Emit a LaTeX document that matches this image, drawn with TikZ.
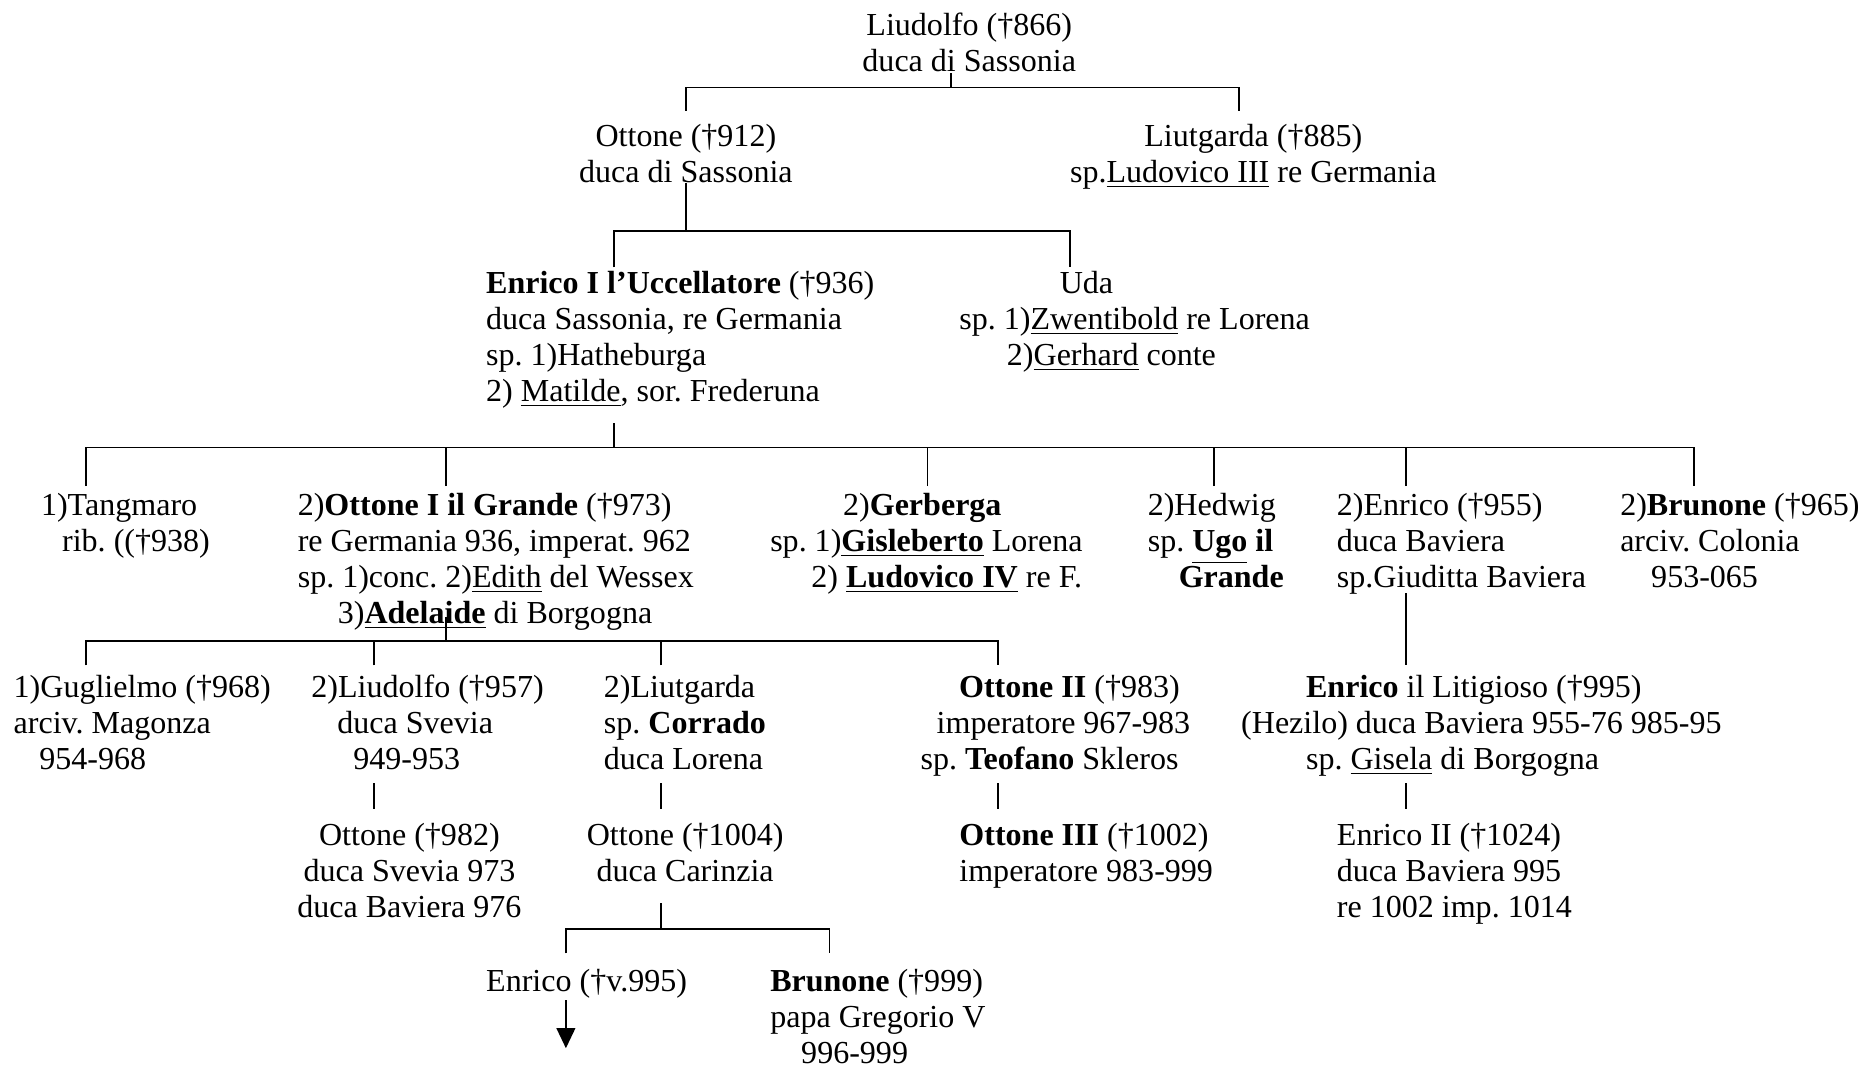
\documentclass[tikz,border=0pt]{standalone}
\usepackage{fontspec}
\setmainfont{Liberation Serif}
\usetikzlibrary{arrows.meta}

\begin{document}
\begin{tikzpicture}[font=\fontsize{12}{13.5}\selectfont\frenchspacing, line width=0.6pt,
  person/.style={inner sep=0pt, anchor=north west, align=left},
  personc/.style={inner sep=0pt, anchor=north, align=center}]
\useasboundingbox (0,0) rectangle (24.50,-14.04);

\node[personc] (liudolfo) at (12.76,-0.13) {\strut Liudolfo (†866)\\duca di Sassonia};
\node[personc] (ottone912) at (9.03,-1.58) {\strut Ottone (†912)\\duca di Sassonia};
\node[personc] (liutgarda885) at (16.50,-1.58) {\strut Liutgarda (†885)\\sp.\underline{Ludovico III} re Germania};

\node[person] (enricoI) at (6.39,-3.52) {\strut\textbf{Enrico I l’Uccellatore} (†936)\\duca Sassonia, re Germania\\sp. 1)Hatheburga\\2) \underline{Matilde}, sor. Frederuna};
\node[person] (uda) at (12.62,-3.52) {\strut\hspace*{37.6pt}Uda\\sp. 1)\underline{Zwentibold} re Lorena\\\hspace*{17.8pt}2)\underline{Gerhard} conte};

\node[person] (tangmaro) at (0.53,-6.44) {\strut 1)Tangmaro\\\hspace*{7.9pt}rib. ((†938)};
\node[person] (ottoneI) at (3.91,-6.44) {\strut 2)\textbf{Ottone I il Grande} (†973)\\re Germania 936, imperat. 962\\sp. 1)conc. 2)\underline{Edith} del Wessex\\\hspace*{15pt}3)\underline{\textbf{Adelaide}} di Borgogna};
\node[person] (gerberga) at (10.13,-6.44) {\strut\hspace*{27.3pt}2)\textbf{Gerberga}\\sp. 1)\underline{\textbf{Gisleberto}} Lorena\\\hspace*{15.4pt}2) \underline{\textbf{Ludovico IV}} re F.};
\node[person] (hedwig) at (15.10,-6.44) {\strut 2)Hedwig\\sp. \underline{\textbf{Ugo}} \textbf{il}\\\hspace*{11.6pt}\textbf{Grande}};
\node[person] (enrico955) at (17.59,-6.44) {\strut 2)Enrico (†955)\\duca Baviera\\sp.Giuditta Baviera};
\node[person] (brunone965) at (21.32,-6.44) {\strut 2)\textbf{Brunone} (†965)\\arciv. Colonia\\\hspace*{11.6pt}953-065};

\node[person] (guglielmo) at (0.17,-8.84) {\strut 1)Guglielmo (†968)\\arciv. Magonza\\\hspace*{9.6pt}954-968};
\node[person] (liudolfo957) at (4.09,-8.84) {\strut 2)Liudolfo (†957)\\\hspace*{9.7pt}duca Svevia\\\hspace*{15.7pt}949-953};
\node[person] (liutgarda) at (7.94,-8.84) {\strut 2)Liutgarda\\sp. \textbf{Corrado}\\duca Lorena};
\node[person] (ottoneII) at (12.11,-8.84) {\strut\hspace*{14.4pt}\textbf{Ottone II} (†983)\\\hspace*{6pt}imperatore 967-983\\sp. \textbf{Teofano} Skleros};
\node[person] (enricolit) at (16.33,-8.84) {\strut\hspace*{24.3pt}\textbf{Enrico} il Litigioso (†995)\\(Hezilo) duca Baviera 955-76 985-95\\\hspace*{24.3pt}sp. \underline{Gisela} di Borgogna};

\node[personc] (ottone982) at (5.39,-10.79) {\strut Ottone (†982)\\duca Svevia 973\\duca Baviera 976};
\node[personc] (ottone1004) at (9.02,-10.79) {\strut Ottone (†1004)\\duca Carinzia};
\node[person] (ottoneIII) at (12.62,-10.79) {\strut\textbf{Ottone III} (†1002)\\imperatore 983-999};
\node[person] (enricoII) at (17.59,-10.79) {\strut Enrico II (†1024)\\duca Baviera 995\\re 1002 imp. 1014};

\node[person] (enrico995) at (6.39,-12.71) {\strut Enrico (†v.995)};
\node[person] (brunone999) at (10.13,-12.71) {\strut\textbf{Brunone} (†999)\\papa Gregorio V\\\hspace*{11.6pt}996-999};

\coordinate (b0) at (12.52,-1.15);
\coordinate (p0) at (liudolfo.south -| b0);
\coordinate (k0a) at (9.03,-1.46);
\coordinate (k0b) at (16.31,-1.46);
\draw (p0) -- (b0);
\draw (k0a) |- (b0) -| (k0b);

\coordinate (p1) at (9.03,-2.41);
\coordinate (b1) at (9.03,-3.04);
\coordinate (k1a) at (8.08,-3.52);
\coordinate (k1b) at (14.09,-3.52);
\draw (p1) -- (b1);
\draw (k1a) |- (b1) -| (k1b);

\coordinate (p2) at (8.08,-5.57);
\coordinate (b2) at (8.08,-5.89);
\coordinate (k2a) at (1.13,-6.40);
\coordinate (k2b) at (5.87,-6.40);
\coordinate (k2c) at (12.21,-6.40);
\coordinate (k2d) at (15.98,-6.40);
\coordinate (k2e) at (18.51,-6.40);
\coordinate (k2f) at (22.30,-6.40);
\draw (p2) -- (b2);
\draw (k2a) |- (b2) -| (k2f);
\draw (k2b) -- (k2b |- b2);
\draw (k2c) -- (k2c |- b2);
\draw (k2d) -- (k2d |- b2);
\draw (k2e) -- (k2e |- b2);

\coordinate (p3) at (5.87,-8.12);
\coordinate (b3) at (5.87,-8.44);
\coordinate (k3a) at (1.13,-8.76);
\coordinate (k3b) at (4.92,-8.76);
\coordinate (k3c) at (8.70,-8.76);
\coordinate (k3d) at (13.14,-8.76);
\draw (p3) -- (b3);
\draw (k3a) |- (b3) -| (k3d);
\draw (k3b) -- (k3b |- b3);
\draw (k3c) -- (k3c |- b3);

\coordinate (p4) at (18.51,-7.81);
\coordinate (k4) at (18.51,-8.76);
\draw (p4) -- (k4);

\coordinate (p5) at (4.92,-10.31);
\coordinate (k5) at (4.92,-10.65);
\coordinate (p6) at (8.70,-10.31);
\coordinate (k6) at (8.70,-10.65);
\coordinate (p7) at (13.14,-10.31);
\coordinate (k7) at (13.14,-10.65);
\coordinate (p8) at (18.51,-10.31);
\coordinate (k8) at (18.51,-10.65);
\draw (p5) -- (k5);
\draw (p6) -- (k6);
\draw (p7) -- (k7);
\draw (p8) -- (k8);

\coordinate (p9) at (8.70,-11.89);
\coordinate (b9) at (8.70,-12.23);
\coordinate (k9a) at (7.45,-12.55);
\coordinate (k9b) at (10.92,-12.55);
\draw (p9) -- (b9);
\draw (k9a) |- (b9) -| (k9b);

\coordinate (a0) at (7.45,-13.17);
\coordinate (a1) at (7.45,-13.80);
\draw[-{Triangle[length=7.5pt,width=7pt]}] (a0) -- (a1);
\end{tikzpicture}
\end{document}
